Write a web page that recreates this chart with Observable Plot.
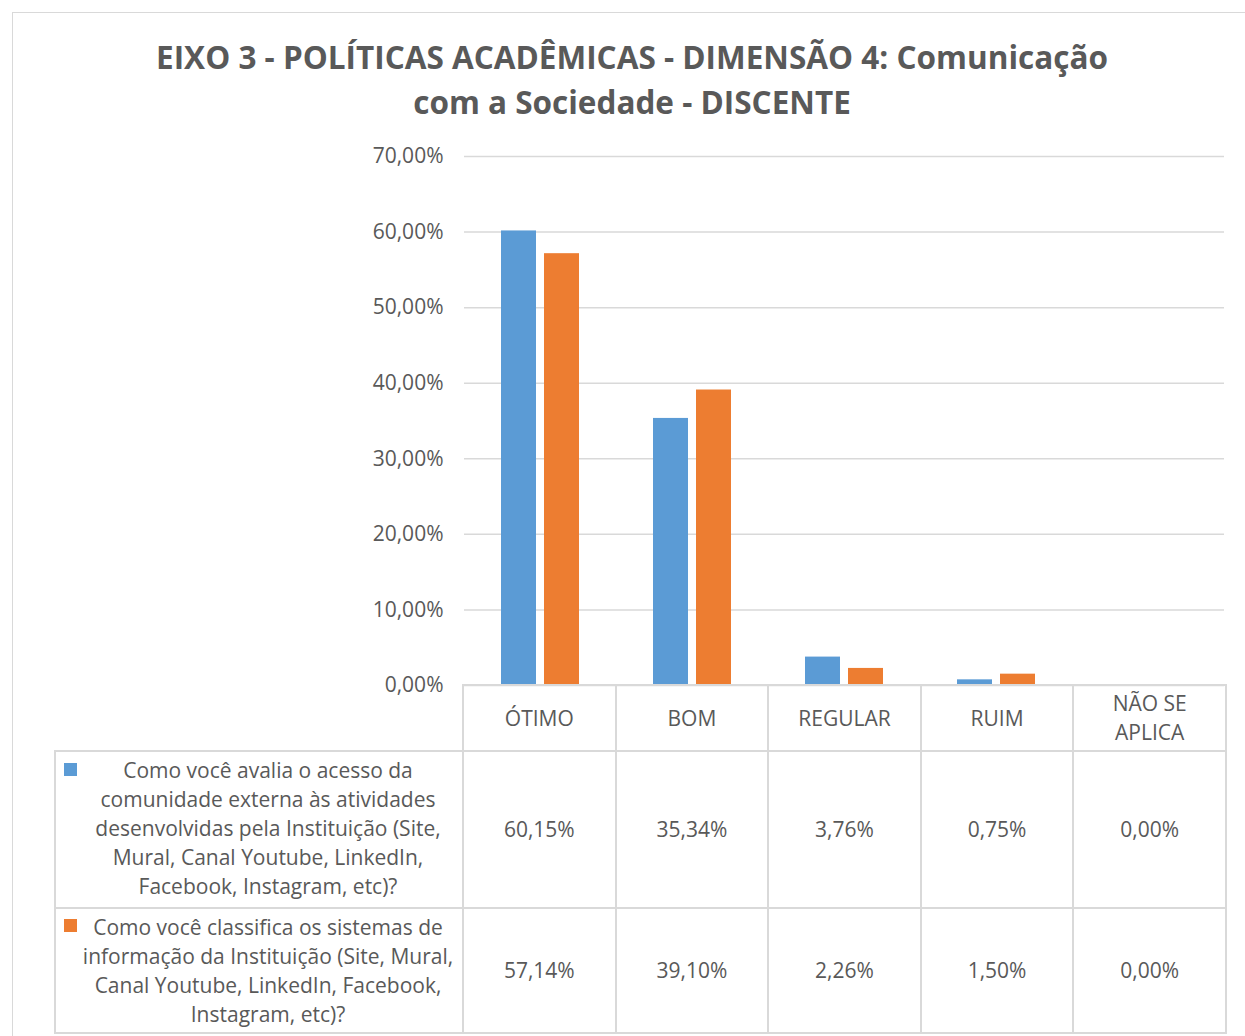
<!DOCTYPE html>
<html><head><meta charset="utf-8">
<script src="https://cdn.jsdelivr.net/npm/d3@7"></script>
<script src="https://cdn.jsdelivr.net/npm/@observablehq/plot@0.6"></script>
<style>
html,body{margin:0;padding:0;background:#fff}
#root{position:relative;width:1245px;height:1036px;overflow:hidden;font-family:"Open Sans",sans-serif;color:#595959}
#frame{position:absolute;left:12px;top:12px;width:1300px;height:1100px;border-left:1.5px solid #d9d9d9;border-top:1.5px solid #d9d9d9}
#title{position:absolute;left:0;width:1264px;top:34px;text-align:center;font-weight:bold;font-size:31.5px;line-height:45px;color:#595959}
#chart{position:absolute;left:0;top:0}
#tbl{position:absolute;left:54px;top:684px;border-collapse:collapse;table-layout:fixed;font-size:21px;color:#595959}
#tbl td{border:2px solid #d9d9d9;text-align:center;vertical-align:middle;padding:0;line-height:29px}
#tbl td.key{position:relative;padding:0 2px 0 20px}
#tbl td.key .sw{position:absolute;left:8px;width:13px;height:13px}
#tbl td.blank{border-top:hidden;border-left:hidden}
</style></head>
<body><div id="root"><div id="frame"></div><div id="title">EIXO 3 - POLÍTICAS ACADÊMICAS - DIMENSÃO 4: Comunicação<br>com a Sociedade - DISCENTE</div><div id="chart"></div><table id="tbl"></table></div>
<script>
const categories = ["ÓTIMO", "BOM", "REGULAR", "RUIM", "NÃO SE APLICA"];
const categoryLines = [["ÓTIMO"], ["BOM"], ["REGULAR"], ["RUIM"], ["NÃO SE", "APLICA"]];
const series = [
  "Como você avalia o acesso da comunidade externa às atividades desenvolvidas pela Instituição (Site, Mural, Canal Youtube, LinkedIn, Facebook, Instagram, etc)?",
  "Como você classifica os sistemas de informação da Instituição (Site, Mural, Canal Youtube, LinkedIn, Facebook, Instagram, etc)?"
];
const seriesLines = [
  ["Como você avalia o acesso da", "comunidade externa às atividades", "desenvolvidas pela Instituição (Site,", "Mural, Canal Youtube, LinkedIn,", "Facebook, Instagram, etc)?"],
  ["Como você classifica os sistemas de", "informação da Instituição (Site, Mural,", "Canal Youtube, LinkedIn, Facebook,", "Instagram, etc)?"]
];
const acessoValues = [60.15, 35.34, 3.76, 0.75, 0.00];
const sistemasValues = [57.14, 39.10, 2.26, 1.50, 0.00];
const colors = ["#5b9bd5", "#ed7d31"];
const yTicks = [0, 10, 20, 30, 40, 50, 60, 70];

const fmt = v => v.toFixed(2).replace(".", ",") + "%";
const allValues = [acessoValues, sistemasValues];
const data = [];
categories.forEach((c, i) => {
  series.forEach((s, j) => data.push({cat: c, serie: s, v: allValues[j][i]}));
});

const chart = Plot.plot({
  width: 1245, height: 700,
  marginLeft: 462, marginRight: 19, marginTop: 156, marginBottom: 15,
  style: {fontFamily: '"Open Sans", sans-serif', fontSize: "21px", color: "#595959", background: "transparent", overflow: "visible"},
  fx: {domain: categories, padding: 0, axis: null, label: null},
  x: {domain: series, paddingInner: 0.186, paddingOuter: 0.86, axis: null, label: null},
  y: {domain: [0, 70], label: null},
  color: {domain: series, range: colors},
  marks: [
    Plot.gridY(yTicks, {stroke: "#d9d9d9", strokeOpacity: 1, strokeWidth: 1.5}),
    Plot.axisY(yTicks, {tickSize: 0, tickPadding: 21, tickFormat: fmt, fontSize: 21, label: null}),
    Plot.barY(data, {fx: "cat", x: "serie", y: "v", fill: "serie"})
  ]
});
document.getElementById("chart").appendChild(chart);

const tbl = document.getElementById("tbl");
const colg = document.createElement("colgroup");
[408, ...categories.map(() => 152.6)].forEach(w => {
  const c = document.createElement("col"); c.style.width = w + "px"; colg.appendChild(c);
});
tbl.appendChild(colg);
const hr = document.createElement("tr"); hr.style.height = "66px";
const blank = document.createElement("td"); blank.className = "blank"; hr.appendChild(blank);
categoryLines.forEach(lines => {
  const td = document.createElement("td"); td.innerHTML = lines.join("<br>"); hr.appendChild(td);
});
tbl.appendChild(hr);
const rowHeights = [157, 125];
series.forEach((s, j) => {
  const tr = document.createElement("tr"); tr.style.height = rowHeights[j] + "px";
  const key = document.createElement("td"); key.className = "key";
  const sw = document.createElement("span"); sw.className = "sw"; sw.style.background = colors[j];
  sw.style.top = (j === 0 ? 11 : 10) + "px";
  key.appendChild(sw);
  const txt = document.createElement("div"); txt.innerHTML = seriesLines[j].join("<br>");
  txt.style.marginTop = (j === 0 ? -3 : 0) + "px";
  key.appendChild(txt);
  tr.appendChild(key);
  allValues[j].forEach(v => {
    const td = document.createElement("td"); td.textContent = fmt(v); tr.appendChild(td);
  });
  tbl.appendChild(tr);
});
</script></body></html>
